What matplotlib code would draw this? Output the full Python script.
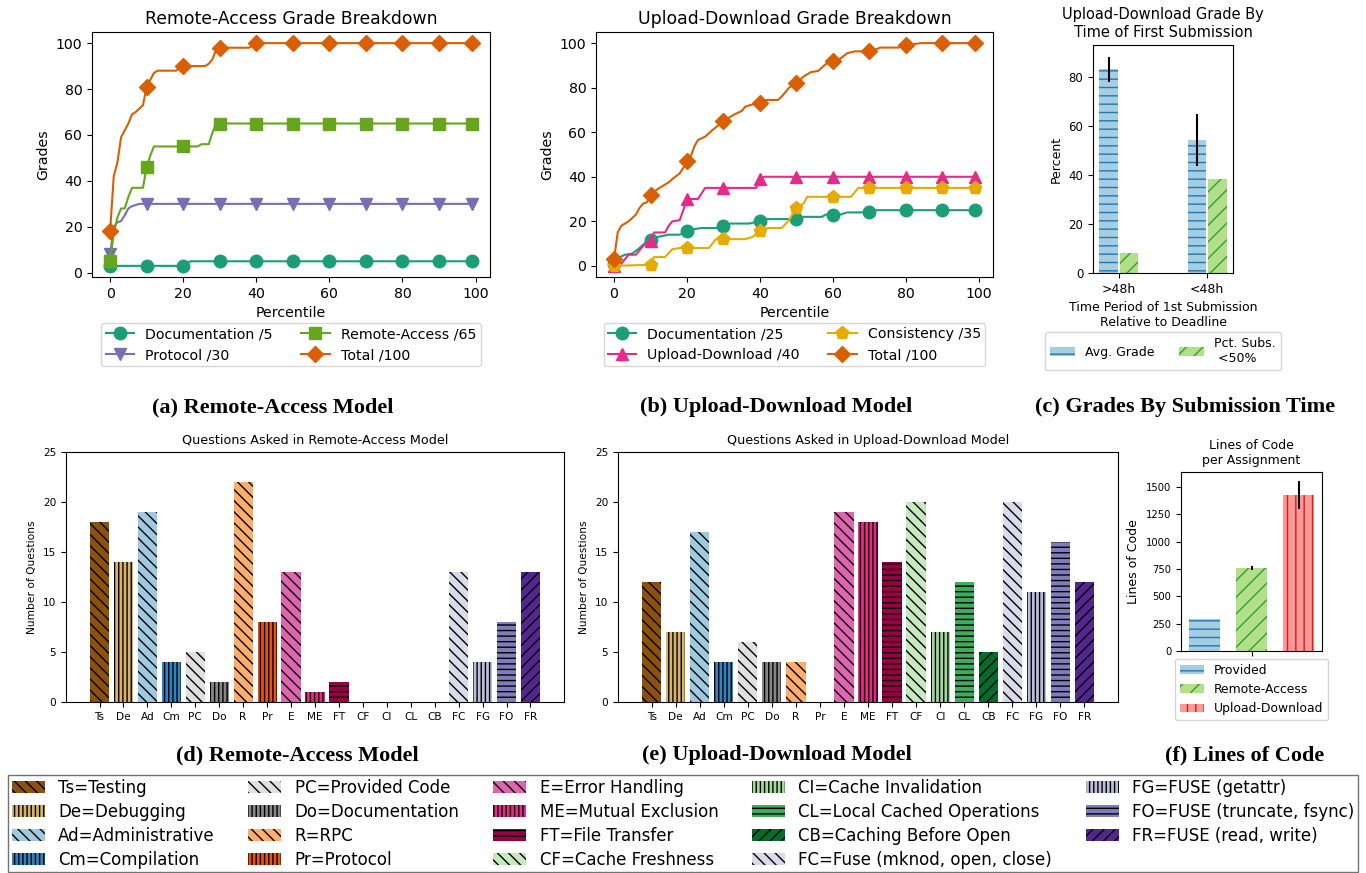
import matplotlib
matplotlib.use('Agg')
import matplotlib.pyplot as plt
from matplotlib.patches import Patch
import numpy as np

plt.rcParams['hatch.linewidth'] = 1.0

W, H = 1366, 873

# percentile points that carry a marker
pct_marks = [0, 10, 20, 30, 40, 50, 60, 70, 80, 90, 99]

# remote-access grades by percentile
ra_doc_x = [0, 10, 20, 22, 30, 40, 50, 60, 70, 80, 90, 99]
ra_doc_y = [3, 3, 3, 5, 5, 5, 5, 5, 5, 5, 5, 5]
ra_proto_x = [0, 1, 2, 3, 4, 5, 6, 8, 10, 20, 30, 40, 50, 60, 70, 80, 90, 99]
ra_proto_y = [8, 20, 22, 22.5, 25, 28, 29, 30, 30, 30, 30, 30, 30, 30, 30, 30, 30, 30]
ra_remote_x = [0, 1, 2, 3, 4, 5, 6, 9, 10, 11, 12, 20, 24, 25, 27, 28, 29, 30,
               40, 50, 60, 70, 80, 90, 99]
ra_remote_y = [5, 17, 24, 28, 28, 33, 37, 37, 46, 51, 55, 55, 55, 56, 56, 61, 65, 65,
               65, 65, 65, 65, 65, 65, 65]
ra_total_x = [0, 1, 2, 3, 4, 5, 6, 7, 9, 10, 11, 12, 13, 18, 20, 26, 27, 28, 29, 30,
              38, 40, 50, 60, 70, 80, 90, 99]
ra_total_y = [18, 42, 48, 59, 62, 65, 69, 70, 73, 81, 84, 87, 88, 88, 90, 90, 91, 93, 97, 98,
              98, 100, 100, 100, 100, 100, 100, 100]

# upload-download grades by percentile
ud_doc_x = [0, 1, 3, 5, 7, 9, 10, 12, 15, 18, 20, 22, 24, 28, 30, 32, 37, 40, 42, 50,
            52, 57, 58, 60, 62, 64, 70, 72, 80, 90, 99]
ud_doc_y = [1, 3.5, 5, 5.5, 8, 11, 11.5, 13, 14, 14, 15.5, 16.5, 17, 17, 18, 19, 19, 20, 21, 21,
            22, 22, 23, 23, 23, 24, 24, 25, 25, 25, 25]
ud_updown_x = [0, 2, 4, 6, 8, 9, 10, 11, 14, 15, 16, 18, 19, 20, 22, 23, 25, 30, 39, 40,
               41, 50, 60, 70, 80, 90, 99]
ud_updown_y = [0, 1, 5, 5, 9, 10, 11, 15, 15, 18, 20, 20.5, 25, 30, 30, 30, 35, 35, 35, 39,
               40, 40, 40, 40, 40, 40, 40]
ud_cons_x = [0, 10, 11, 14, 16, 18, 20, 26, 28, 30, 36, 38, 40, 42, 46, 48, 50, 52, 53, 60,
             65, 67, 70, 80, 90, 99]
ud_cons_y = [0, 0.5, 4, 4, 7.5, 8, 8, 8, 12, 12, 12, 13, 15.5, 17, 17, 20.5, 26, 28, 31, 31,
             31, 35, 35, 35, 35, 35]
ud_total_x = [0, 1, 2, 4, 6, 7, 8, 9, 10, 12, 14, 15, 16, 18, 19, 20, 21, 22, 23, 25, 27, 30,
              33, 35, 36, 38, 40, 42, 45, 46, 48, 50, 52, 54, 56, 57, 58, 60, 62, 64, 66, 70,
              72, 73, 78, 80, 84, 90, 99]
ud_total_y = [3, 15, 18, 20, 23, 26, 28, 28.5, 32, 34.5, 36.5, 37.5, 39, 41.5, 44, 47, 49, 53.5,
              56.5, 58, 61, 65, 68, 69.5, 71.5, 72.5, 73, 74.5, 74.5, 76, 80, 82, 85, 87, 87.5,
              89, 90.5, 92, 93, 95.5, 96.3, 96.3, 97.3, 98, 98, 99, 100, 100, 100]

# grade by time of first submission
sub_groups = ['>48h', '<48h']
avg_grade = [83.0, 54.3]
avg_grade_err = [5.0, 10.5]
pct_below_half = [8.1, 38.4]

# question categories
cats = ['Ts', 'De', 'Ad', 'Cm', 'PC', 'Do', 'R', 'Pr', 'E', 'ME', 'FT',
        'CF', 'CI', 'CL', 'CB', 'FC', 'FG', 'FO', 'FR']
cat_names = ['Testing', 'Debugging', 'Administrative', 'Compilation', 'Provided Code',
             'Documentation', 'RPC', 'Protocol', 'Error Handling', 'Mutual Exclusion',
             'File Transfer', 'Cache Freshness', 'Cache Invalidation',
             'Local Cached Operations', 'Caching Before Open', 'Fuse (mknod, open, close)',
             'FUSE (getattr)', 'FUSE (truncate, fsync)', 'FUSE (read, write)']
ra_questions = [18, 14, 19, 4, 5, 2, 22, 8, 13, 1, 2, 0, 0, 0, 0, 13, 4, 8, 13]
ud_questions = [12, 7, 17, 4, 6, 4, 4, 0, 19, 18, 14, 20, 7, 12, 5, 20, 11, 16, 12]

cat_colors = ['#8c510a', '#d8b365', '#9ecae1', '#3182bd', '#e0e0e0', '#878787',
              '#fdae6b', '#e6550d', '#df65b0', '#e7298a', '#980043', '#c7e9c0',
              '#a1d99b', '#41ab5d', '#006d2c', '#dadaeb', '#bcbddc', '#807dba', '#54278f']
back, vert, horiz, fwd = '\\' * 3, '||||', '---', '///'
cat_hatches = [back, vert, back, vert, back, vert, back, vert, back, vert, horiz,
               back, vert, horiz, fwd, back, vert, horiz, fwd]

# lines of code
loc_labels = ['Provided', 'Remote-Access', 'Upload-Download']
loc_mean = [292, 760, 1427]
loc_err = [0, 18, 125]
loc_faces = ['#a6cee3', '#b2df8a', '#fb9a99']
loc_lines = ['#1f78b4', '#33a02c', '#e31a1c']
loc_hatches = ['--', '//', '||']


fig = plt.figure(figsize=(W / 100, H / 100), dpi=100)


def box(l, t, r, b):
    return fig.add_axes([l / W, 1 - b / H, (r - l) / W, (b - t) / H])


def grade_chart(ax, series, title, ylim):
    for x, y, color, marker, ms, label in series:
        marks = [i for i, v in enumerate(x) if v in pct_marks]
        ax.plot(x, y, color=color, marker=marker, markevery=marks, ms=ms, lw=1.5, label=label)
    ax.set_xlim(-4.95, 103.95)
    ax.set_ylim(*ylim)
    ax.set_xticks([0, 20, 40, 60, 80, 100])
    ax.set_yticks([0, 20, 40, 60, 80, 100])
    ax.tick_params(labelsize=10.2)
    ax.set_xlabel('Percentile', fontsize=10.2)
    ax.set_ylabel('Grades', fontsize=10.2)
    ax.set_title(title, fontsize=12.4)
    ax.legend(loc='upper center', bbox_to_anchor=(0.5, -0.158), ncol=2, fontsize=10.2,
              borderpad=0.3)


ax_a = box(92, 32, 490, 277)
grade_chart(ax_a, [
    (ra_doc_x, ra_doc_y, '#1b9e77', 'o', 9, 'Documentation /5'),
    (ra_proto_x, ra_proto_y, '#7570b3', 'v', 9, 'Protocol /30'),
    (ra_remote_x, ra_remote_y, '#66a61e', 's', 8.5, 'Remote-Access /65'),
    (ra_total_x, ra_total_y, '#d95f02', 'D', 8.5, 'Total /100'),
], 'Remote-Access Grade Breakdown', (-1.85, 104.85))

ax_b = box(596, 32, 993, 277)
grade_chart(ax_b, [
    (ud_doc_x, ud_doc_y, '#1b9e77', 'o', 9, 'Documentation /25'),
    (ud_updown_x, ud_updown_y, '#e7298a', '^', 9, 'Upload-Download /40'),
    (ud_cons_x, ud_cons_y, '#e6ab02', 'p', 9.5, 'Consistency /35'),
    (ud_total_x, ud_total_y, '#d95f02', 'D', 8.5, 'Total /100'),
], 'Upload-Download Grade Breakdown', (-5, 105))

# grades by submission time
ax_c = box(1093, 45, 1233, 273)
xs = np.arange(len(sub_groups))
ax_c.bar(xs - 0.115, avg_grade, 0.21, yerr=avg_grade_err, color='#a6cee3', edgecolor='#1f78b4',
         linewidth=0, hatch='--', label='Avg. Grade',
         error_kw=dict(ecolor='black', elinewidth=1.5, capsize=0))
ax_c.bar(xs + 0.115, pct_below_half, 0.21, color='#b2df8a', edgecolor='#33a02c',
         linewidth=0, hatch='//', label='Pct. Subs.\n <50%')
ax_c.set_xticks(xs)
ax_c.set_xticklabels(sub_groups, fontsize=9)
ax_c.set_xlim(-0.292, 1.292)
ax_c.set_ylim(0, 92.9)
ax_c.set_yticks([0, 20, 40, 60, 80])
ax_c.tick_params(axis='y', labelsize=8.5)
ax_c.set_ylabel('Percent', fontsize=9)
ax_c.set_xlabel('Time Period of 1st Submission\nRelative to Deadline', fontsize=9)
ax_c.set_title('Upload-Download Grade By\nTime of First Submission', fontsize=10.5)
ax_c.legend(loc='upper center', bbox_to_anchor=(0.5, -0.232), ncol=2, fontsize=9)


def question_chart(ax, counts, title):
    xs = np.arange(len(cats))
    bars = ax.bar(xs, counts, 0.8, color=cat_colors, edgecolor='black', linewidth=0)
    for bar, h in zip(bars, cat_hatches):
        bar.set_hatch(h)
    ax.set_xticks(xs)
    ax.set_xticklabels(cats)
    ax.set_xlim(-1.4, 19.4)
    ax.set_ylim(0, 25)
    ax.set_yticks([0, 5, 10, 15, 20, 25])
    ax.tick_params(labelsize=7.6)
    ax.set_ylabel('Number of Questions', fontsize=7.7)
    ax.set_title(title, fontsize=9.2)


ax_d = box(66, 452, 564, 702)
question_chart(ax_d, ra_questions, 'Questions Asked in Remote-Access Model')
ax_e = box(618, 452, 1118, 702)
question_chart(ax_e, ud_questions, 'Questions Asked in Upload-Download Model')

# lines of code per assignment
ax_f = box(1181, 472, 1322, 651)
for i in range(len(loc_labels)):
    err = loc_err[i] if loc_err[i] > 0 else None
    ax_f.bar(i - 1, loc_mean[i], 0.67, yerr=err, color=loc_faces[i], edgecolor=loc_lines[i],
             linewidth=0, hatch=loc_hatches[i], label=loc_labels[i],
             error_kw=dict(ecolor='black', elinewidth=1.5, capsize=0))
ax_f.set_xlim(-1.5, 1.5)
ax_f.set_xticks([0])
ax_f.set_xticklabels([''])
ax_f.set_ylim(0, 1637)
ax_f.set_yticks([0, 250, 500, 750, 1000, 1250, 1500])
ax_f.tick_params(labelsize=7.2)
ax_f.set_ylabel('Lines of Code', fontsize=9)
ax_f.set_title('Lines of Code\nper Assignment', fontsize=9)
ax_f.legend(loc='upper center', bbox_to_anchor=(0.5, -0.01), fontsize=8.9)

# sub-figure captions
captions = [('(a) Remote-Access Model', 273, 407), ('(b) Upload-Download Model', 776, 407),
            ('(c) Grades By Submission Time', 1185, 407), ('(d) Remote-Access Model', 297, 755),
            ('(e) Upload-Download Model', 777, 755), ('(f) Lines of Code', 1245, 755)]
for text, cx, cy in captions:
    fig.text(cx / W, 1 - cy / H, text, ha='center', va='center', fontsize=16,
             fontweight='bold', family='Liberation Serif')

# shared category key
handles = [Patch(facecolor=c, edgecolor='black', linewidth=0, hatch=h, label=f'{a}={n}')
           for a, n, c, h in zip(cats, cat_names, cat_colors, cat_hatches)]
fig.legend(handles=handles, loc='upper center', bbox_to_anchor=(0.5, 1 - 775 / H), ncol=5,
           fontsize=12, fancybox=False, edgecolor='0.45', framealpha=1,
           labelspacing=0.36, borderpad=0.22, borderaxespad=0)

fig.savefig('out.png', dpi=100)
